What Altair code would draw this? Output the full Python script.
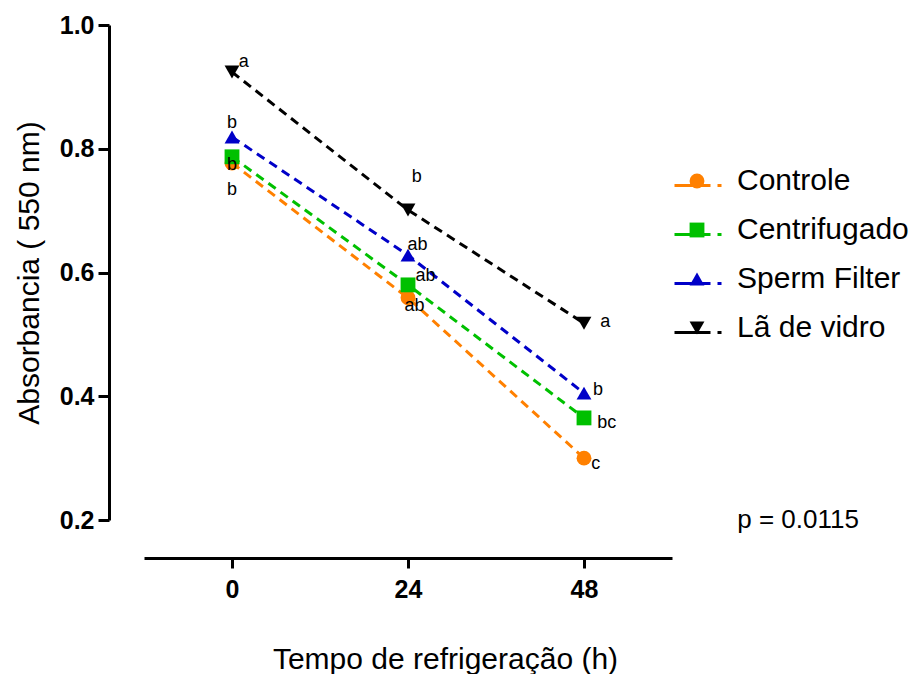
import altair as alt
import pandas as pd

hours = [0, 24, 48]
series_names = ["Controle", "Centrifugado", "Sperm Filter", "Lã de vidro"]

controle = [0.777, 0.559, 0.300]
centrifugado = [0.787, 0.580, 0.365]
sperm_filter = [0.819, 0.628, 0.405]
la_de_vidro = [0.924, 0.701, 0.518]

controle_letters = ["b", "ab", "c"]
centrifugado_letters = ["b", "ab", "bc"]
sperm_letters = ["b", "ab", "b"]
la_letters = ["a", "b", "a"]

# letter label anchor positions (hours, absorbance)
controle_lab_x = [0.0, 24.9, 49.6]
controle_lab_y = [0.733, 0.546, 0.290]
centrifugado_lab_x = [0.0, 26.4, 51.1]
centrifugado_lab_y = [0.774, 0.594, 0.357]
sperm_lab_x = [0.0, 25.3, 49.9]
sperm_lab_y = [0.842, 0.644, 0.410]
la_lab_x = [1.6, 25.2, 50.9]
la_lab_y = [0.940, 0.754, 0.520]

colors = ["#FF8000", "#00C000", "#0000C8", "#000000"]
shapes = ["circle", "square", "triangle-up", "triangle-down"]

p_text = "p = 0.0115"

FONT = "Liberation Sans"

values = [controle, centrifugado, sperm_filter, la_de_vidro]
letters = [controle_letters, centrifugado_letters, sperm_letters, la_letters]
lab_x = [controle_lab_x, centrifugado_lab_x, sperm_lab_x, la_lab_x]
lab_y = [controle_lab_y, centrifugado_lab_y, sperm_lab_y, la_lab_y]

# separate key for the dashed-line legend (its labels are hidden)
line_keys = [n + " (linha)" for n in series_names]

rows = []
lab_rows = []
for i, name in enumerate(series_names):
    for j, h in enumerate(hours):
        rows.append({"series": name, "line_series": line_keys[i], "hours": h,
                     "abs": values[i][j], "order": i})
        lab_rows.append({"series": name, "lx": lab_x[i][j], "ly": lab_y[i][j],
                         "letter": letters[i][j]})
df = pd.DataFrame(rows)
df_lab = pd.DataFrame(lab_rows)
df_p = pd.DataFrame({"lx": [68.9], "ly": [0.2], "t": [p_text]})

xscale = alt.Scale(domain=[-12, 60], nice=False, zero=False)
yscale = alt.Scale(domain=[0.2, 1.0], nice=False, zero=False)
cscale = alt.Scale(domain=line_keys, range=colors)
fscale = alt.Scale(domain=series_names, range=colors)
sscale = alt.Scale(domain=series_names, range=shapes)

x_axis = alt.Axis(values=hours, title="Tempo de refrigeração (h)", offset=38,
                  tickSize=10, tickWidth=3, domainWidth=3, domainColor="black",
                  tickColor="black", labelFont=FONT, labelFontSize=25,
                  labelFontWeight="bold", labelColor="black", labelPadding=9,
                  titleFont=FONT, titleFontSize=30, titleFontWeight="normal",
                  titleColor="black", titlePadding=42, titleX=301, grid=False)
y_axis = alt.Axis(values=[0.2, 0.4, 0.6, 0.8, 1.0], format=".1f",
                  title="Absorbancia ( 550 nm)", offset=35,
                  tickSize=11, tickWidth=3, domainWidth=3, domainColor="black",
                  tickColor="black", labelFont=FONT, labelFontSize=25,
                  labelFontWeight="bold", labelColor="black", labelPadding=4,
                  titleFont=FONT, titleFontSize=30, titleFontWeight="normal",
                  titleColor="black", titlePadding=15, grid=False)

line_legend = alt.Legend(title=None, orient="none", legendX=529, legendY=135,
                         symbolType="stroke", symbolSize=2304, symbolStrokeWidth=3,
                         symbolDash=[36, 7, 4, 10], labelExpr="''",
                         labelFont=FONT, labelFontSize=30, rowPadding=8,
                         padding=0, labelOffset=10)
pt_legend = alt.Legend(title=None, orient="none", legendX=538, legendY=141,
                       symbolSize=220, symbolOpacity=1, labelFont=FONT,
                       labelFontSize=30, labelColor="black", rowPadding=19,
                       padding=0, labelOffset=25, symbolStrokeWidth=0,
                       labelLimit=400)

base = alt.Chart(df)

lines = base.mark_line(strokeWidth=3, strokeDash=[9, 6]).encode(
    x=alt.X("hours:Q", scale=xscale, axis=x_axis),
    y=alt.Y("abs:Q", scale=yscale, axis=y_axis),
    color=alt.Color("line_series:N", scale=cscale, legend=line_legend),
    detail="line_series:N",
)

points = base.mark_point(filled=True, size=220, opacity=1, strokeWidth=0).encode(
    x=alt.X("hours:Q", scale=xscale),
    y=alt.Y("abs:Q", scale=yscale),
    fill=alt.Fill("series:N", scale=fscale, legend=pt_legend),
    shape=alt.Shape("series:N", scale=sscale, legend=pt_legend),
    order="order:Q",
)

labels = alt.Chart(df_lab).mark_text(font=FONT, fontSize=18, color="black",
                                     align="center", baseline="middle").encode(
    x=alt.X("lx:Q", scale=xscale),
    y=alt.Y("ly:Q", scale=yscale),
    text="letter:N",
)

ptext = alt.Chart(df_p).mark_text(font=FONT, fontSize=26, color="black",
                                  align="left", baseline="middle").encode(
    x=alt.X("lx:Q", scale=xscale),
    y=alt.Y("ly:Q", scale=yscale),
    text="t:N",
)

chart = alt.layer(lines, points, labels, ptext).properties(
    width=528, height=495,
    autosize=alt.AutoSizeParams(type="none"),
    padding={"left": 136, "top": 17, "right": 242, "bottom": 154},
).configure(
    background="white",
    view=alt.ViewConfig(stroke=None, strokeWidth=0),
)

chart.save("out.html", embed_options={"renderer": "svg", "actions": False})
